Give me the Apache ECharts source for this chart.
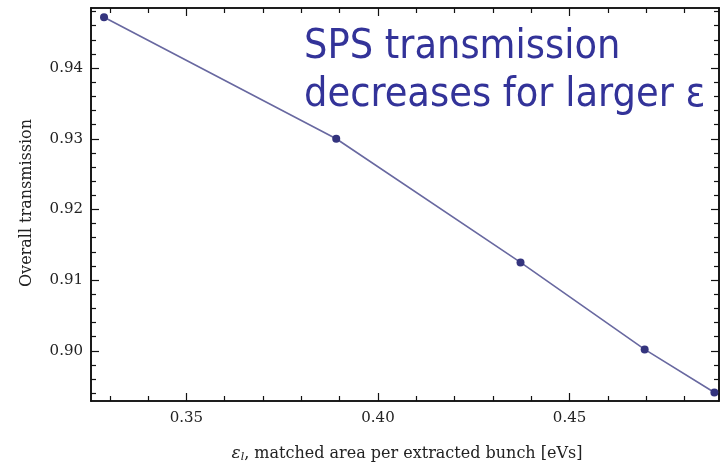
<!DOCTYPE html>
<html>
<head>
<meta charset="utf-8">
<script src="https://cdn.jsdelivr.net/npm/echarts@6/dist/echarts.min.js"></script>
<style>
  html, body { margin: 0; padding: 0; background: #ffffff; }
  #chart { width: 721px; height: 466px; }
</style>
</head>
<body>
<div id="chart"></div>
<script>
// Matched longitudinal area per extracted bunch [eVs] vs overall SPS transmission
const emittance = [0.3285, 0.3891, 0.4372, 0.4696, 0.4878];
const transmission = [0.9472, 0.9300, 0.9125, 0.9002, 0.8941];

// Axis ranges and tick positions
const xRange = [0.3251, 0.4890];
const yRange = [0.8929, 0.9485];
const xMajorTicks = [0.35, 0.40, 0.45];
const xMinorTicks = [0.33, 0.34, 0.36, 0.37, 0.38, 0.39, 0.41, 0.42, 0.43, 0.44, 0.46, 0.47, 0.48];
const yMajorTicks = [0.90, 0.91, 0.92, 0.93, 0.94];
const yMinorTicks = [0.894, 0.896, 0.898, 0.902, 0.904, 0.906, 0.908, 0.912, 0.914, 0.916, 0.918,
                     0.922, 0.924, 0.926, 0.928, 0.932, 0.934, 0.936, 0.938, 0.942, 0.944, 0.946, 0.948];

const titleLines = ['SPS transmission', 'decreases for larger ε'];
const yAxisTitle = 'Overall transmission';
const xAxisTitle = ', matched area per extracted bunch [eVs]';

const serif = '"DejaVu Serif", "Liberation Serif", serif';
const sans = '"DejaVu Sans Condensed", "DejaVu Sans", sans-serif';
const axisColor = '#111111';
const textColor = '#222222';

function xAxisDef(position, ticks, len, labels) {
  return {
    type: 'value', position: position, min: xRange[0], max: xRange[1],
    axisLine: { show: true, lineStyle: { color: axisColor, width: 1.6 } },
    axisTick: { show: true, inside: true, length: len, customValues: ticks,
                lineStyle: { color: axisColor, width: 1.2 } },
    axisLabel: labels ? { show: true, customValues: ticks, margin: 10,
                          fontFamily: serif, fontSize: 15, color: textColor,
                          formatter: v => v.toFixed(2) } : { show: false },
    splitLine: { show: false }
  };
}
function yAxisDef(position, ticks, len, labels) {
  return {
    type: 'value', position: position, min: yRange[0], max: yRange[1],
    axisLine: { show: true, lineStyle: { color: axisColor, width: 1.6 } },
    axisTick: { show: true, inside: true, length: len, customValues: ticks,
                lineStyle: { color: axisColor, width: 1.2 } },
    axisLabel: labels ? { show: true, customValues: ticks, margin: 8,
                          fontFamily: serif, fontSize: 15, color: textColor,
                          formatter: v => v.toFixed(2) } : { show: false },
    splitLine: { show: false }
  };
}

const chart = echarts.init(document.getElementById('chart'), null, { renderer: 'canvas' });
chart.setOption({
  backgroundColor: '#ffffff',
  animation: false,
  grid: { left: 91, right: 2, top: 8, bottom: 65 },
  xAxis: [
    xAxisDef('bottom', xMajorTicks, 8, true),
    xAxisDef('bottom', xMinorTicks, 5, false),
    xAxisDef('top', xMajorTicks, 8, false),
    xAxisDef('top', xMinorTicks, 5, false)
  ],
  yAxis: [
    yAxisDef('left', yMajorTicks, 8, true),
    yAxisDef('left', yMinorTicks, 5, false),
    yAxisDef('right', yMajorTicks, 8, false),
    yAxisDef('right', yMinorTicks, 5, false)
  ],
  series: [{
    type: 'line',
    xAxisIndex: 0, yAxisIndex: 0,
    data: emittance.map((x, i) => [x, transmission[i]]),
    symbol: 'circle', symbolSize: 8,
    lineStyle: { color: '#6868a0', width: 1.6 },
    itemStyle: { color: '#34347e' },
    clip: false
  }],
  graphic: [
    {
      type: 'text', left: 304, top: 27,
      style: { text: titleLines[0], fontFamily: sans, fontSize: 41, fill: '#333399' }
    },
    {
      type: 'text', left: 304, top: 75,
      style: { text: titleLines[1], fontFamily: sans, fontSize: 41, fill: '#333399' }
    },
    {
      type: 'text', x: 27, y: 203, rotation: Math.PI / 2,
      style: { text: yAxisTitle, fontFamily: serif, fontSize: 16, fill: textColor,
               align: 'center', verticalAlign: 'middle' }
    },
    {
      type: 'text', x: 407, y: 454,
      style: {
        text: '{e|ε}{s|l}' + xAxisTitle,
        fontFamily: serif, fontSize: 16, fill: textColor,
        align: 'center', verticalAlign: 'middle',
        rich: {
          e: { fontFamily: serif, fontStyle: 'italic', fontSize: 17, fill: textColor },
          s: { fontFamily: serif, fontStyle: 'italic', fontSize: 11, fill: textColor, padding: [7, 0, 0, 0] }
        }
      }
    }
  ]
});
</script>
</body>
</html>
